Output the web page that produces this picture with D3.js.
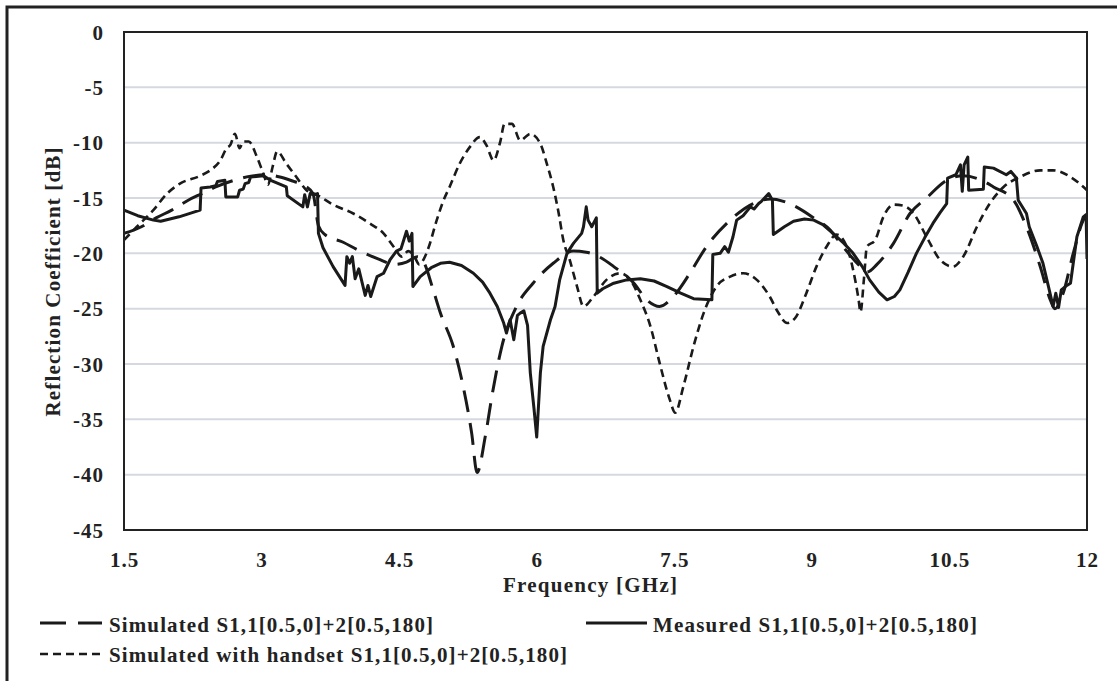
<!DOCTYPE html>
<html>
<head>
<meta charset="utf-8">
<script src="https://cdn.jsdelivr.net/npm/d3@7"></script>
<style>
  html, body { margin: 0; padding: 0; background: #fff; }
  svg text { font-family: "Liberation Serif", "Times New Roman", serif; font-weight: bold; fill: #222; }
</style>
</head>
<body>
<div id="chart"></div>
<script>
// frequency ticks and dB ticks
const xTicks = [1.5, 3, 4.5, 6, 7.5, 9, 10.5, 12];
const yTicks = [0, -5, -10, -15, -20, -25, -30, -35, -40, -45];

// Simulated S1,1 (long dash)
const simFreq = [1.5, 1.69, 1.85, 2.02, 2.2, 2.35, 2.5, 2.7, 2.9, 3.05, 3.2, 3.35, 3.45, 3.56, 3.62, 3.69, 3.89, 4.05, 4.27, 4.45,
  4.58, 4.7, 4.78, 4.86, 4.95, 5.09, 5.2, 5.29, 5.35, 5.44, 5.52, 5.62, 5.78, 5.96, 6.18, 6.4, 6.54, 6.7, 6.84, 7.06,
  7.2, 7.34, 7.49, 7.67, 7.85, 8.11, 8.36, 8.55, 8.69, 8.83, 9.02, 9.2, 9.34, 9.53, 9.6, 9.71, 9.89, 10.07, 10.25, 10.47,
  10.65, 10.85, 10.98, 11.2, 11.34, 11.49, 11.6, 11.65, 11.74, 11.85, 11.96, 12];
const simVals = [-18.2, -17.6, -16.8, -16.1, -15.2, -14.6, -14.0, -13.4, -13.0, -12.9, -13.1, -13.5, -13.8, -14.6, -17.5, -18.3, -19.0, -19.7, -20.5, -21.0,
  -20.8, -20.3, -21.0, -23.0, -25.4, -28.4, -32.1, -36.2, -39.8, -36.5, -32.5, -28.4, -24.8, -22.7, -20.9, -19.8, -19.9, -20.4, -21.2, -22.7,
  -24.2, -24.8, -23.9, -21.8, -19.4, -17.0, -15.5, -15.1, -15.3, -15.8, -16.8, -17.9, -19.4, -21.2, -21.7, -21.0, -19.1, -16.4, -15.0, -13.4,
  -13.0, -13.4, -14.0, -15.2, -17.6, -21.2, -24.2, -25.0, -23.6, -20.0, -17.0, -16.5];

// Measured S1,1 (solid)
const measFreq = [1.5, 1.65, 1.82, 1.9, 2.1, 2.33, 2.34, 2.44, 2.5, 2.52, 2.6, 2.61, 2.74, 2.76, 2.8, 2.82, 2.86, 2.88, 3.02, 3.1,
  3.27, 3.28, 3.45, 3.47, 3.5, 3.53, 3.58, 3.61, 3.62, 3.67, 3.78, 3.91, 3.93, 3.96, 3.99, 4.02, 4.06, 4.13, 4.16, 4.19,
  4.26, 4.33, 4.4, 4.47, 4.52, 4.58, 4.61, 4.64, 4.65, 4.73, 4.85, 4.95, 5.05, 5.18, 5.31, 5.41, 5.49, 5.57, 5.64, 5.67,
  5.71, 5.75, 5.79, 5.82, 5.86, 5.9, 5.93, 5.97, 6.0, 6.04, 6.07, 6.15, 6.2, 6.25, 6.33, 6.4, 6.49, 6.51, 6.54, 6.56,
  6.6, 6.65, 6.66, 6.72, 6.84, 6.98, 7.13, 7.28, 7.42, 7.57, 7.71, 7.91, 7.92, 8.0, 8.05, 8.09, 8.14, 8.18, 8.25, 8.33,
  8.37, 8.42, 8.45, 8.53, 8.57, 8.58, 8.7, 8.8, 8.92, 9.02, 9.12, 9.23, 9.35, 9.45, 9.55, 9.63, 9.73, 9.82, 9.9, 9.96,
  10.05, 10.14, 10.23, 10.32, 10.4, 10.47, 10.48, 10.57, 10.62, 10.64, 10.66, 10.7, 10.71, 10.87, 10.88, 10.98, 11.12, 11.17, 11.23, 11.25,
  11.34, 11.37, 11.45, 11.52, 11.58, 11.63, 11.66, 11.69, 11.72, 11.78, 11.82, 11.89, 11.96, 11.99, 12];
const measVals = [-16.1, -16.6, -17.0, -17.1, -16.7, -16.1, -14.1, -14.0, -13.9, -13.5, -13.4, -14.9, -14.9, -14.3, -14.2, -13.7, -13.6, -13.1, -13.0, -13.4,
  -14.0, -14.8, -15.8, -14.7, -15.8, -14.6, -14.7, -14.6, -18.2, -19.5, -21.2, -22.9, -20.3, -20.9, -20.3, -22.3, -21.4, -23.8, -22.9, -23.9,
  -22.1, -21.8, -20.6, -19.8, -19.6, -18.0, -18.9, -18.2, -23.0, -22.1, -21.3, -20.9, -20.8, -21.1, -21.8, -22.6, -23.6, -24.8, -26.3, -27.2,
  -26.0, -27.8, -25.6, -25.4, -25.2, -26.5, -30.8, -34.0, -36.6, -30.8, -28.4, -26.0, -24.8, -22.4, -20.0, -19.1, -18.2, -17.6, -15.8, -17.0,
  -17.6, -16.8, -23.6, -23.2, -22.7, -22.4, -22.3, -22.5, -23.0, -23.6, -24.1, -24.2, -20.1, -20.0, -19.4, -19.9, -18.5, -17.0, -16.6, -15.8,
  -16.0, -15.5, -15.3, -14.6, -15.2, -18.3, -17.6, -17.1, -16.9, -17.0, -17.4, -18.2, -19.1, -20.0, -21.2, -22.4, -23.5, -24.2, -23.9, -23.3,
  -21.7, -20.0, -18.6, -17.3, -16.3, -15.5, -13.2, -12.9, -12.0, -14.4, -12.0, -11.3, -14.3, -14.2, -12.2, -12.3, -12.9, -12.6, -13.2, -15.2,
  -16.4, -17.6, -19.3, -20.9, -23.0, -24.8, -23.6, -24.9, -23.3, -22.9, -22.7, -18.5, -16.7, -16.5, -20.5];

// Simulated with handset S1,1 (short dash)
const handFreq = [1.5, 1.64, 1.82, 1.97, 2.11, 2.33, 2.44, 2.55, 2.62, 2.66, 2.71, 2.76, 2.8, 2.86, 2.95, 3.02, 3.07, 3.12, 3.17, 3.27,
  3.38, 3.49, 3.6, 3.78, 4.0, 4.18, 4.33, 4.44, 4.53, 4.6, 4.66, 4.72, 4.77, 4.82, 4.91, 4.98, 5.05, 5.16, 5.27, 5.38,
  5.45, 5.53, 5.6, 5.65, 5.73, 5.82, 5.93, 6.04, 6.11, 6.18, 6.24, 6.29, 6.36, 6.44, 6.51, 6.62, 6.76, 6.91, 7.02, 7.13,
  7.24, 7.34, 7.45, 7.51, 7.6, 7.71, 7.82, 7.96, 8.11, 8.25, 8.4, 8.54, 8.63, 8.73, 8.83, 8.94, 9.05, 9.16, 9.27, 9.38,
  9.45, 9.51, 9.53, 9.57, 9.6, 9.69, 9.78, 9.89, 10.0, 10.11, 10.25, 10.4, 10.54, 10.65, 10.8, 10.94, 11.09, 11.27, 11.49, 11.63,
  11.82, 12];
const handVals = [-18.8, -17.6, -16.1, -14.6, -13.7, -13.0, -12.5, -11.6, -10.5, -10.2, -9.2, -10.5, -9.9, -9.9, -11.3, -12.8, -13.8, -12.2, -10.8, -11.9,
  -13.1, -14.3, -14.7, -15.6, -16.4, -17.3, -18.2, -19.4, -20.3, -19.8, -20.2, -21.0, -20.5, -19.5, -17.0, -15.3, -14.0, -11.9, -10.4, -9.5,
  -10.2, -11.6, -10.0, -8.3, -8.3, -9.8, -9.2, -10.1, -11.9, -14.0, -16.4, -18.8, -20.6, -23.0, -24.8, -23.9, -22.4, -21.8, -22.4, -24.2,
  -26.6, -29.9, -33.2, -34.4, -32.0, -28.4, -25.4, -23.0, -22.1, -21.8, -22.4, -23.9, -25.3, -26.3, -25.7, -23.6, -21.2, -19.4, -18.3, -19.4,
  -21.5, -24.2, -25.3, -22.1, -19.4, -18.8, -16.7, -15.6, -15.7, -16.4, -18.5, -20.6, -21.2, -20.3, -17.6, -15.5, -14.0, -13.1, -12.5, -12.5,
  -13.1, -14.3];

const legendLabels = [
  "Simulated S1,1[0.5,0]+2[0.5,180]",
  "Measured S1,1[0.5,0]+2[0.5,180]",
  "Simulated with handset S1,1[0.5,0]+2[0.5,180]"
];

const W = 1117, H = 681;
const plot = { left: 124, top: 32, right: 1087, bottom: 530 };

const svg = d3.select("#chart").append("svg")
  .attr("width", W)
  .attr("height", H);

// outer frame (only top and left edges fall inside the window)
svg.append("path")
  .attr("d", "M7,700 L7,7 L1130,7")
  .attr("fill", "none")
  .attr("stroke", "#222")
  .attr("stroke-width", 3);

const x = d3.scaleLinear().domain([1.5, 12]).range([plot.left, plot.right]);
const y = d3.scaleLinear().domain([-45, 0]).range([plot.bottom, plot.top]);

// horizontal grid
svg.append("g")
  .selectAll("line")
  .data(yTicks.filter(d => d !== 0 && d !== -45))
  .join("line")
  .attr("x1", plot.left)
  .attr("x2", plot.right)
  .attr("y1", d => y(d))
  .attr("y2", d => y(d))
  .attr("stroke", "#d5d9df")
  .attr("stroke-width", 2);

// y axis labels (plain hyphen, as in the original)
const yAxis = d3.axisLeft(y).tickValues(yTicks).tickSize(0).tickPadding(20).tickFormat(d => String(d));
svg.append("g")
  .attr("transform", `translate(${plot.left},0)`)
  .call(yAxis)
  .call(g => g.select(".domain").remove())
  .selectAll("text")
  .attr("font-size", 21)
  .attr("letter-spacing", 1)
  .attr("dy", "0.34em");

// x axis labels
const xAxis = d3.axisBottom(x).tickValues(xTicks).tickSize(0).tickPadding(22).tickFormat(d => String(d));
svg.append("g")
  .attr("transform", `translate(0,${plot.bottom})`)
  .call(xAxis)
  .call(g => g.select(".domain").remove())
  .selectAll("text")
  .attr("font-size", 21)
  .attr("letter-spacing", 1);

// axis titles
svg.append("text")
  .attr("transform", "translate(60,282) rotate(-90)")
  .attr("text-anchor", "middle")
  .attr("font-size", 21)
  .attr("textLength", 269)
  .text("Reflection Coefficient [dB]");

svg.append("text")
  .attr("x", 590)
  .attr("y", 592)
  .attr("text-anchor", "middle")
  .attr("font-size", 21)
  .attr("textLength", 174)
  .text("Frequency [GHz]");

// series
const series = [
  { f: simFreq, v: simVals, dash: "22,11", width: 3, curve: d3.curveMonotoneX },
  { f: measFreq, v: measVals, dash: null, width: 3, curve: d3.curveLinear },
  { f: handFreq, v: handVals, dash: "8,5", width: 2.6, curve: d3.curveMonotoneX }
];

svg.append("clipPath").attr("id", "plotclip")
  .append("rect")
  .attr("x", plot.left).attr("y", plot.top)
  .attr("width", plot.right - plot.left).attr("height", plot.bottom - plot.top);

series.forEach(s => {
  const pts = s.f.map((f, i) => [f, s.v[i]]);
  svg.append("path")
    .datum(pts)
    .attr("clip-path", "url(#plotclip)")
    .attr("fill", "none")
    .attr("stroke", "#1a1a1a")
    .attr("stroke-width", s.width)
    .attr("stroke-linejoin", "round")
    .attr("stroke-dasharray", s.dash)
    .attr("d", d3.line().curve(s.curve).x(d => x(d[0])).y(d => y(d[1])));
});

// plot border
svg.append("rect")
  .attr("x", plot.left)
  .attr("y", plot.top)
  .attr("width", plot.right - plot.left)
  .attr("height", plot.bottom - plot.top)
  .attr("fill", "none")
  .attr("stroke", "#222")
  .attr("stroke-width", 2);

// legend
const legend = [
  { x1: 40, x2: 102, ly: 623, tx: 109, ty: 632, len: 324, dash: "26,12", width: 3 },
  { x1: 586, x2: 647, ly: 623, tx: 653, ty: 632, len: 324, dash: null, width: 3 },
  { x1: 40, x2: 102, ly: 654, tx: 109, ty: 662, len: 458, dash: "8,5", width: 2.6 }
];
legend.forEach((l, i) => {
  svg.append("line")
    .attr("x1", l.x1).attr("x2", l.x2)
    .attr("y1", l.ly).attr("y2", l.ly)
    .attr("stroke", "#1a1a1a")
    .attr("stroke-width", l.width)
    .attr("stroke-dasharray", l.dash);
  svg.append("text")
    .attr("x", l.tx)
    .attr("y", l.ty)
    .attr("font-size", 21)
    .attr("textLength", l.len)
    .text(legendLabels[i]);
});
</script>
</body>
</html>
